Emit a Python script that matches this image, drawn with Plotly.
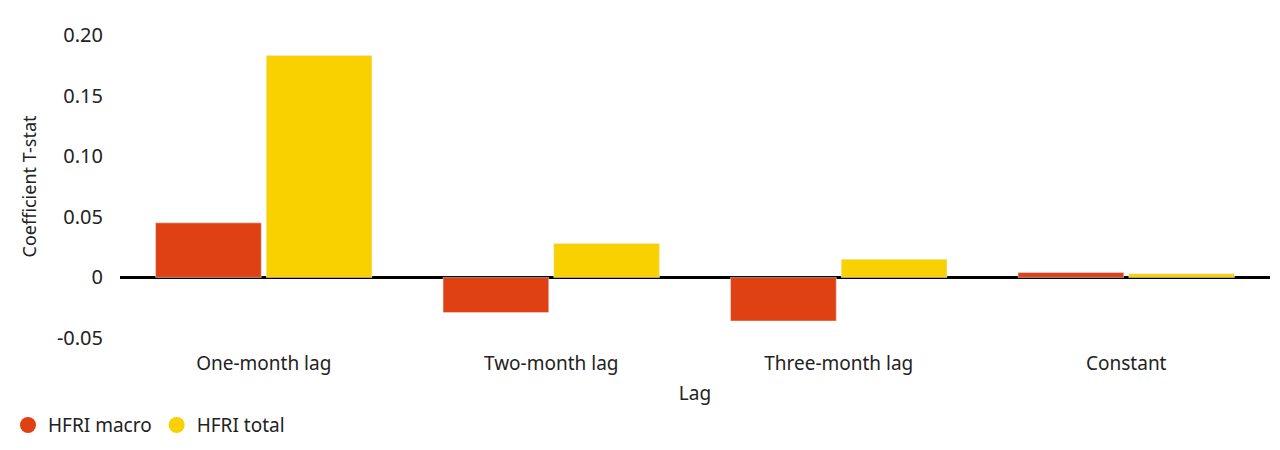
import plotly.graph_objects as go

categories = ["One-month lag", "Two-month lag", "Three-month lag", "Constant"]
series_names = ["HFRI macro", "HFRI total"]
hfri_macro = [0.045, -0.029, -0.036, 0.004]
hfri_total = [0.183, 0.028, 0.015, 0.003]
colors = ["#E04112", "#F9D000"]
tick_vals = [-0.05, 0, 0.05, 0.10, 0.15, 0.20]
tick_text = ["-0.05", "0", "0.05", "0.10", "0.15", "0.20"]

fig = go.Figure()
for name, vals, c in zip(series_names, [hfri_macro, hfri_total], colors):
    fig.add_bar(x=categories, y=vals, name=name, marker_color=c, showlegend=False)
for name, c in zip(series_names, colors):
    fig.add_scatter(x=[None], y=[None], mode="markers", name=name,
                    marker=dict(color=c, size=16, symbol="circle"))

fig.update_layout(
    width=1280, height=450,
    margin=dict(l=112, r=18, t=27, b=120, autoexpand=False),
    plot_bgcolor="white", paper_bgcolor="white",
    font=dict(family="Noto Sans", size=19, color="#222"),
    barmode="group", bargap=0.23, bargroupgap=0.045,
    legend=dict(orientation="h", x=0.0, xref="container", xanchor="left",
                y=0.073, yref="container", yanchor="middle",
                font=dict(size=19), itemwidth=30, tracegroupgap=0),
)
fig.update_xaxes(title_text="Lag", showgrid=False, showline=False, ticks="outside",
                 ticklen=8, tickcolor="white", title_standoff=18, title_font=dict(size=19))
fig.update_yaxes(title_text="Coefficient T-stat", range=[-0.05, 0.2], tickvals=tick_vals,
                 ticktext=tick_text, showgrid=False, zeroline=True, zerolinecolor="black",
                 zerolinewidth=2.5, title_font=dict(size=18), ticklabelstandoff=16,
                 tickfont=dict(size=20))
fig.write_html("out.html")
